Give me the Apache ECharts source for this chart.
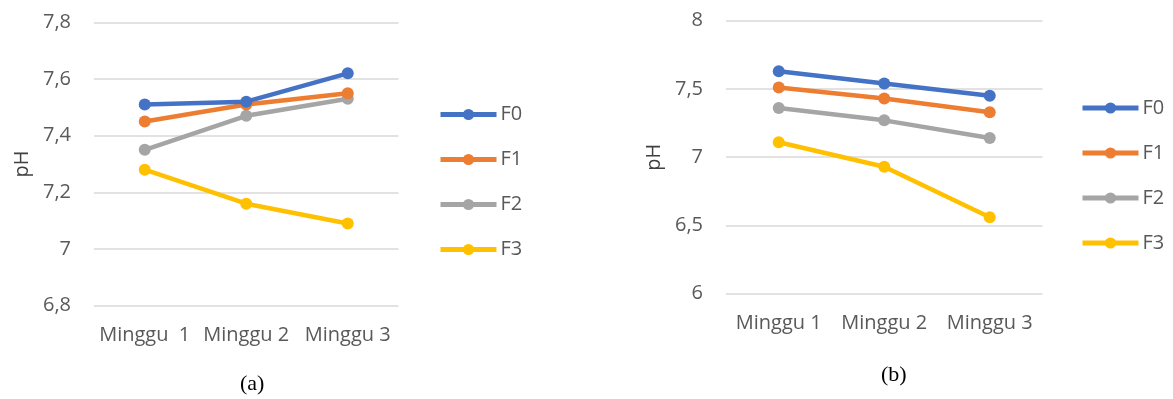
<!DOCTYPE html>
<html>
<head>
<meta charset="utf-8">
<script src="https://cdn.jsdelivr.net/npm/echarts@6/dist/echarts.min.js"></script>
<style>
  html, body { margin: 0; padding: 0; background: #ffffff; }
  #chart { width: 1173px; height: 399px; }
</style>
</head>
<body>
<div id="chart"></div>
<script>
// Weekly pH of formulations F0–F3, two panels
const seriesNames = ['F0', 'F1', 'F2', 'F3'];
const seriesColors = ['#4472C4', '#ED7D31', '#A5A5A5', '#FFC000'];

// Panel (a)
const categoriesA = ['Minggu  1', 'Minggu 2', 'Minggu 3'];
const f0A = [7.51, 7.52, 7.62];
const f1A = [7.45, 7.51, 7.55];
const f2A = [7.35, 7.47, 7.53];
const f3A = [7.28, 7.16, 7.09];

// Panel (b)
const categoriesB = ['Minggu 1', 'Minggu 2', 'Minggu 3'];
const f0B = [7.63, 7.54, 7.45];
const f1B = [7.51, 7.43, 7.33];
const f2B = [7.36, 7.27, 7.14];
const f3B = [7.11, 6.93, 6.56];

const axisName = 'pH';
const captions = ['(a)', '(b)'];

const textColor = '#595959';
const font = '"Open Sans", sans-serif';
const fontSize = 20;

const commaFmt = v => (Math.round(v * 10) / 10).toString().replace('.', ',');

function makeSeries(values, idx, name) {
  return {
    type: 'line',
    name: name,
    xAxisIndex: idx,
    yAxisIndex: idx,
    data: values,
    symbol: 'circle',
    symbolSize: 12,
    lineStyle: { width: 4.5 },
    itemStyle: { color: seriesColors[seriesNames.indexOf(name)] },
    emphasis: { disabled: true },
    z: 10 - seriesNames.indexOf(name)
  };
}

function yAxisFor(idx, min, max, interval) {
  return {
    type: 'value',
    gridIndex: idx,
    min: min,
    max: max,
    interval: interval,
    name: axisName,
    nameLocation: 'middle',
    nameRotate: 90,
    nameGap: 62,
    nameTextStyle: { color: '#404040', fontFamily: font, fontSize: fontSize },
    axisLine: { show: false },
    axisTick: { show: false },
    axisLabel: { color: textColor, fontFamily: font, fontSize: fontSize, margin: 23, formatter: commaFmt },
    splitLine: { lineStyle: { color: '#D9D9D9', width: 1.5 } }
  };
}

function xAxisFor(idx, cats) {
  return {
    type: 'category',
    gridIndex: idx,
    data: cats,
    boundaryGap: true,
    axisLine: { show: false },
    axisTick: { show: false },
    axisLabel: { color: textColor, fontFamily: font, fontSize: fontSize, margin: 20, interval: 0 }
  };
}

function legendAt(left, top) {
  return {
    orient: 'vertical',
    left: left,
    top: top,
    padding: 0,
    data: seriesNames,
    itemWidth: 56,
    itemHeight: 14,
    itemGap: 25,
    lineStyle: { width: 5 },
    textStyle: { color: textColor, fontFamily: font, fontSize: fontSize, padding: [0, 0, 0, -1] },
    selectedMode: false
  };
}

const chart = echarts.init(document.getElementById('chart'), null, { renderer: 'canvas' });

chart.setOption({
  animation: false,
  backgroundColor: '#ffffff',
  grid: [
    { left: 94, top: 22.3, width: 304.5, height: 283.4 },
    { left: 726, top: 20.7, width: 316.5, height: 273 }
  ],
  xAxis: [xAxisFor(0, categoriesA), xAxisFor(1, categoriesB)],
  yAxis: [yAxisFor(0, 6.8, 7.8, 0.2), yAxisFor(1, 6, 8, 0.5)],
  legend: [legendAt(438, 104.5), legendAt(1080, 98)],
  series: [
    makeSeries(f0A, 0, 'F0'),
    makeSeries(f1A, 0, 'F1'),
    makeSeries(f2A, 0, 'F2'),
    makeSeries(f3A, 0, 'F3'),
    makeSeries(f0B, 1, 'F0'),
    makeSeries(f1B, 1, 'F1'),
    makeSeries(f2B, 1, 'F2'),
    makeSeries(f3B, 1, 'F3')
  ],
  graphic: [
    {
      type: 'text', left: 240, top: 373,
      style: { text: captions[0], fill: '#000000', font: '22px "Liberation Serif", serif' }
    },
    {
      type: 'text', left: 881, top: 364,
      style: { text: captions[1], fill: '#000000', font: '22px "Liberation Serif", serif' }
    }
  ]
});
</script>
</body>
</html>
